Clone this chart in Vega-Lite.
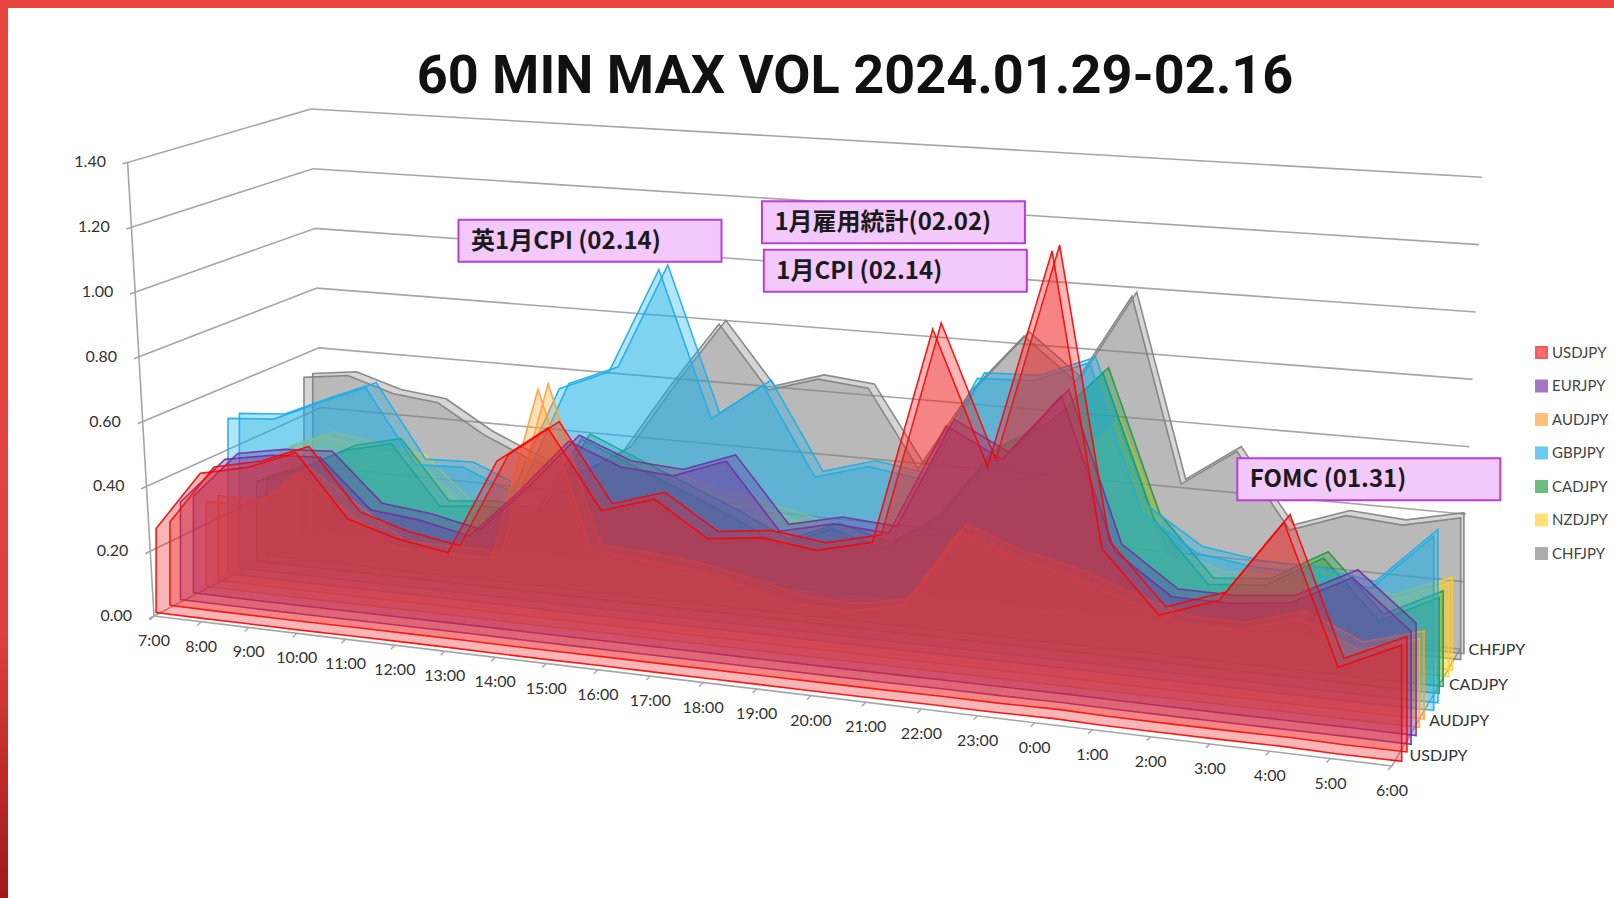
{"$schema":"https://vega.github.io/schema/vega-lite/v6.json","width":1614,"height":898,"padding":0,"autosize":{"type":"none"},"background":"white","title":{"text":"60 MIN MAX VOL 2024.01.29-02.16","font":"Roboto","fontWeight":"bold","fontSize":54,"color":"#111","anchor":"middle","dx":48,"dy":104,"offset":0},"config":{"view":{"stroke":null}},
"datasets":{"levels":[{"value":0,"label":"0.00"},{"value":0.2,"label":"0.20"},{"value":0.4,"label":"0.40"},{"value":0.6,"label":"0.60"},{"value":0.8,"label":"0.80"},{"value":1.0,"label":"1.00"},{"value":1.2,"label":"1.20"},{"value":1.4,"label":"1.40"}],
"notes":[{"label":"英1月CPI (02.14)","t":0.237,"level":1.024},{"label":"1月雇用統計(02.02)","t":0.498,"level":1.15},{"label":"1月CPI (02.14)","t":0.5,"level":0.998},{"label":"FOMC (01.31)","t":0.914,"level":0.477}],
"vol":[
{"hour":"7:00","idx":0,"pair":"CHFJPY","value":0.524},{"hour":"8:00","idx":1,"pair":"CHFJPY","value":0.543},{"hour":"9:00","idx":2,"pair":"CHFJPY","value":0.497},{"hour":"10:00","idx":3,"pair":"CHFJPY","value":0.48},{"hour":"11:00","idx":4,"pair":"CHFJPY","value":0.389},{"hour":"12:00","idx":5,"pair":"CHFJPY","value":0.323},{"hour":"13:00","idx":6,"pair":"CHFJPY","value":0.286},{"hour":"14:00","idx":7,"pair":"CHFJPY","value":0.38},{"hour":"15:00","idx":8,"pair":"CHFJPY","value":0.604},{"hour":"16:00","idx":9,"pair":"CHFJPY","value":0.812},{"hour":"17:00","idx":10,"pair":"CHFJPY","value":0.616},{"hour":"18:00","idx":11,"pair":"CHFJPY","value":0.664},{"hour":"19:00","idx":12,"pair":"CHFJPY","value":0.649},{"hour":"20:00","idx":13,"pair":"CHFJPY","value":0.412},{"hour":"21:00","idx":14,"pair":"CHFJPY","value":0.666},{"hour":"22:00","idx":15,"pair":"CHFJPY","value":0.85},{"hour":"23:00","idx":16,"pair":"CHFJPY","value":0.723},{"hour":"0:00","idx":17,"pair":"CHFJPY","value":0.997},{"hour":"1:00","idx":18,"pair":"CHFJPY","value":0.44},{"hour":"2:00","idx":19,"pair":"CHFJPY","value":0.554},{"hour":"3:00","idx":20,"pair":"CHFJPY","value":0.333},{"hour":"4:00","idx":21,"pair":"CHFJPY","value":0.392},{"hour":"5:00","idx":22,"pair":"CHFJPY","value":0.38},{"hour":"6:00","idx":23,"pair":"CHFJPY","value":0.417},
{"hour":"7:00","idx":0,"pair":"NZDJPY","value":0.32},{"hour":"8:00","idx":1,"pair":"NZDJPY","value":0.38},{"hour":"9:00","idx":2,"pair":"NZDJPY","value":0.355},{"hour":"10:00","idx":3,"pair":"NZDJPY","value":0.335},{"hour":"11:00","idx":4,"pair":"NZDJPY","value":0.2},{"hour":"12:00","idx":5,"pair":"NZDJPY","value":0.194},{"hour":"13:00","idx":6,"pair":"NZDJPY","value":0.189},{"hour":"14:00","idx":7,"pair":"NZDJPY","value":0.383},{"hour":"15:00","idx":8,"pair":"NZDJPY","value":0.378},{"hour":"16:00","idx":9,"pair":"NZDJPY","value":0.323},{"hour":"17:00","idx":10,"pair":"NZDJPY","value":0.297},{"hour":"18:00","idx":11,"pair":"NZDJPY","value":0.262},{"hour":"19:00","idx":12,"pair":"NZDJPY","value":0.227},{"hour":"20:00","idx":13,"pair":"NZDJPY","value":0.231},{"hour":"21:00","idx":14,"pair":"NZDJPY","value":0.226},{"hour":"22:00","idx":15,"pair":"NZDJPY","value":0.391},{"hour":"23:00","idx":16,"pair":"NZDJPY","value":0.485},{"hour":"0:00","idx":17,"pair":"NZDJPY","value":0.65},{"hour":"1:00","idx":18,"pair":"NZDJPY","value":0.27},{"hour":"2:00","idx":19,"pair":"NZDJPY","value":0.22},{"hour":"3:00","idx":20,"pair":"NZDJPY","value":0.224},{"hour":"4:00","idx":21,"pair":"NZDJPY","value":0.229},{"hour":"5:00","idx":22,"pair":"NZDJPY","value":0.203},{"hour":"6:00","idx":23,"pair":"NZDJPY","value":0.271},
{"hour":"7:00","idx":0,"pair":"CADJPY","value":0.257},{"hour":"8:00","idx":1,"pair":"CADJPY","value":0.312},{"hour":"9:00","idx":2,"pair":"CADJPY","value":0.388},{"hour":"10:00","idx":3,"pair":"CADJPY","value":0.424},{"hour":"11:00","idx":4,"pair":"CADJPY","value":0.239},{"hour":"12:00","idx":5,"pair":"CADJPY","value":0.255},{"hour":"13:00","idx":6,"pair":"CADJPY","value":0.241},{"hour":"14:00","idx":7,"pair":"CADJPY","value":0.496},{"hour":"15:00","idx":8,"pair":"CADJPY","value":0.432},{"hour":"16:00","idx":9,"pair":"CADJPY","value":0.368},{"hour":"17:00","idx":10,"pair":"CADJPY","value":0.303},{"hour":"18:00","idx":11,"pair":"CADJPY","value":0.229},{"hour":"19:00","idx":12,"pair":"CADJPY","value":0.295},{"hour":"20:00","idx":13,"pair":"CADJPY","value":0.251},{"hour":"21:00","idx":14,"pair":"CADJPY","value":0.356},{"hour":"22:00","idx":15,"pair":"CADJPY","value":0.572},{"hour":"23:00","idx":16,"pair":"CADJPY","value":0.668},{"hour":"0:00","idx":17,"pair":"CADJPY","value":0.84},{"hour":"1:00","idx":18,"pair":"CADJPY","value":0.419},{"hour":"2:00","idx":19,"pair":"CADJPY","value":0.245},{"hour":"3:00","idx":20,"pair":"CADJPY","value":0.26},{"hour":"4:00","idx":21,"pair":"CADJPY","value":0.356},{"hour":"5:00","idx":22,"pair":"CADJPY","value":0.191},{"hour":"6:00","idx":23,"pair":"CADJPY","value":0.276},
{"hour":"7:00","idx":0,"pair":"GBPJPY","value":0.498},{"hour":"8:00","idx":1,"pair":"GBPJPY","value":0.51},{"hour":"9:00","idx":2,"pair":"GBPJPY","value":0.576},{"hour":"10:00","idx":3,"pair":"GBPJPY","value":0.638},{"hour":"11:00","idx":4,"pair":"GBPJPY","value":0.41},{"hour":"12:00","idx":5,"pair":"GBPJPY","value":0.416},{"hour":"13:00","idx":6,"pair":"GBPJPY","value":0.353},{"hour":"14:00","idx":7,"pair":"GBPJPY","value":0.69},{"hour":"15:00","idx":8,"pair":"GBPJPY","value":0.756},{"hour":"16:00","idx":9,"pair":"GBPJPY","value":1.083},{"hour":"17:00","idx":10,"pair":"GBPJPY","value":0.64},{"hour":"18:00","idx":11,"pair":"GBPJPY","value":0.756},{"hour":"19:00","idx":12,"pair":"GBPJPY","value":0.493},{"hour":"20:00","idx":13,"pair":"GBPJPY","value":0.54},{"hour":"21:00","idx":14,"pair":"GBPJPY","value":0.517},{"hour":"22:00","idx":15,"pair":"GBPJPY","value":0.833},{"hour":"23:00","idx":16,"pair":"GBPJPY","value":0.84},{"hour":"0:00","idx":17,"pair":"GBPJPY","value":0.907},{"hour":"1:00","idx":18,"pair":"GBPJPY","value":0.483},{"hour":"2:00","idx":19,"pair":"GBPJPY","value":0.38},{"hour":"3:00","idx":20,"pair":"GBPJPY","value":0.357},{"hour":"4:00","idx":21,"pair":"GBPJPY","value":0.354},{"hour":"5:00","idx":22,"pair":"GBPJPY","value":0.33},{"hour":"6:00","idx":23,"pair":"GBPJPY","value":0.496},
{"hour":"7:00","idx":0,"pair":"AUDJPY","value":0.27},{"hour":"8:00","idx":1,"pair":"AUDJPY","value":0.27},{"hour":"9:00","idx":2,"pair":"AUDJPY","value":0.39},{"hour":"10:00","idx":3,"pair":"AUDJPY","value":0.29},{"hour":"11:00","idx":4,"pair":"AUDJPY","value":0.19},{"hour":"12:00","idx":5,"pair":"AUDJPY","value":0.19},{"hour":"13:00","idx":6,"pair":"AUDJPY","value":0.19},{"hour":"14:00","idx":7,"pair":"AUDJPY","value":0.723},{"hour":"15:00","idx":8,"pair":"AUDJPY","value":0.245},{"hour":"16:00","idx":9,"pair":"AUDJPY","value":0.235},{"hour":"17:00","idx":10,"pair":"AUDJPY","value":0.22},{"hour":"18:00","idx":11,"pair":"AUDJPY","value":0.19},{"hour":"19:00","idx":12,"pair":"AUDJPY","value":0.155},{"hour":"20:00","idx":13,"pair":"AUDJPY","value":0.15},{"hour":"21:00","idx":14,"pair":"AUDJPY","value":0.185},{"hour":"22:00","idx":15,"pair":"AUDJPY","value":0.42},{"hour":"23:00","idx":16,"pair":"AUDJPY","value":0.36},{"hour":"0:00","idx":17,"pair":"AUDJPY","value":0.325},{"hour":"1:00","idx":18,"pair":"AUDJPY","value":0.27},{"hour":"2:00","idx":19,"pair":"AUDJPY","value":0.22},{"hour":"3:00","idx":20,"pair":"AUDJPY","value":0.22},{"hour":"4:00","idx":21,"pair":"AUDJPY","value":0.27},{"hour":"5:00","idx":22,"pair":"AUDJPY","value":0.2},{"hour":"6:00","idx":23,"pair":"AUDJPY","value":0.25},
{"hour":"7:00","idx":0,"pair":"EURJPY","value":0.305},{"hour":"8:00","idx":1,"pair":"EURJPY","value":0.454},{"hour":"9:00","idx":2,"pair":"EURJPY","value":0.482},{"hour":"10:00","idx":3,"pair":"EURJPY","value":0.491},{"hour":"11:00","idx":4,"pair":"EURJPY","value":0.345},{"hour":"12:00","idx":5,"pair":"EURJPY","value":0.329},{"hour":"13:00","idx":6,"pair":"EURJPY","value":0.297},{"hour":"14:00","idx":7,"pair":"EURJPY","value":0.446},{"hour":"15:00","idx":8,"pair":"EURJPY","value":0.615},{"hour":"16:00","idx":9,"pair":"EURJPY","value":0.553},{"hour":"17:00","idx":10,"pair":"EURJPY","value":0.542},{"hour":"18:00","idx":11,"pair":"EURJPY","value":0.601},{"hour":"19:00","idx":12,"pair":"EURJPY","value":0.41},{"hour":"20:00","idx":13,"pair":"EURJPY","value":0.448},{"hour":"21:00","idx":14,"pair":"EURJPY","value":0.437},{"hour":"22:00","idx":15,"pair":"EURJPY","value":0.766},{"hour":"23:00","idx":16,"pair":"EURJPY","value":0.684},{"hour":"0:00","idx":17,"pair":"EURJPY","value":0.883},{"hour":"1:00","idx":18,"pair":"EURJPY","value":0.452},{"hour":"2:00","idx":19,"pair":"EURJPY","value":0.34},{"hour":"3:00","idx":20,"pair":"EURJPY","value":0.339},{"hour":"4:00","idx":21,"pair":"EURJPY","value":0.358},{"hour":"5:00","idx":22,"pair":"EURJPY","value":0.447},{"hour":"6:00","idx":23,"pair":"EURJPY","value":0.315},
{"hour":"7:00","idx":0,"pair":"USDJPY","value":0.26},{"hour":"8:00","idx":1,"pair":"USDJPY","value":0.446},{"hour":"9:00","idx":2,"pair":"USDJPY","value":0.48},{"hour":"10:00","idx":3,"pair":"USDJPY","value":0.54},{"hour":"11:00","idx":4,"pair":"USDJPY","value":0.355},{"hour":"12:00","idx":5,"pair":"USDJPY","value":0.31},{"hour":"13:00","idx":6,"pair":"USDJPY","value":0.285},{"hour":"14:00","idx":7,"pair":"USDJPY","value":0.575},{"hour":"15:00","idx":8,"pair":"USDJPY","value":0.69},{"hour":"16:00","idx":9,"pair":"USDJPY","value":0.46},{"hour":"17:00","idx":10,"pair":"USDJPY","value":0.51},{"hour":"18:00","idx":11,"pair":"USDJPY","value":0.41},{"hour":"19:00","idx":12,"pair":"USDJPY","value":0.43},{"hour":"20:00","idx":13,"pair":"USDJPY","value":0.41},{"hour":"21:00","idx":14,"pair":"USDJPY","value":0.45},{"hour":"22:00","idx":15,"pair":"USDJPY","value":1.08},{"hour":"23:00","idx":16,"pair":"USDJPY","value":0.7},{"hour":"0:00","idx":17,"pair":"USDJPY","value":1.33},{"hour":"1:00","idx":18,"pair":"USDJPY","value":0.5},{"hour":"2:00","idx":19,"pair":"USDJPY","value":0.33},{"hour":"3:00","idx":20,"pair":"USDJPY","value":0.39},{"hour":"4:00","idx":21,"pair":"USDJPY","value":0.625},{"hour":"5:00","idx":22,"pair":"USDJPY","value":0.24},{"hour":"6:00","idx":23,"pair":"USDJPY","value":0.32}
]},
"layer":[
{"data":{"values":[{"edge":"top"}]},"mark":{"type":"rect","color":"#e8463f"},"encoding":{"x":{"datum":0,"type":"quantitative","scale":{"domain":[0,1614],"nice":false,"zero":false},"axis":null},"x2":{"datum":1614},"y":{"datum":0,"type":"quantitative","scale":{"domain":[898,0],"nice":false,"zero":false},"axis":null},"y2":{"datum":8}}},
{"data":{"values":[{"edge":"left"}]},"mark":{"type":"rect","color":{"gradient":"linear","x1":0,"y1":0,"x2":0,"y2":1,"stops":[{"offset":0,"color":"#e8463f"},{"offset":0.7,"color":"#e04040"},{"offset":1,"color":"#a01818"}]}},"encoding":{"x":{"datum":0,"type":"quantitative","axis":null},"x2":{"datum":8},"y":{"datum":0,"type":"quantitative","axis":null},"y2":{"datum":898}}},
{"data":{"name":"levels"},"transform":[{"calculate":"0","as":"t"},{"calculate":"-0.03","as":"s"},
{"calculate":"(1-datum.s)*((1-datum.t)*(154-18.6*datum.value)+datum.t*(1392+22*datum.value))+datum.s*((1-datum.t)*(325-10*datum.value)+datum.t*(1460+15.7*datum.value))","as":"x1"},{"calculate":"(1-datum.s)*((1-datum.t)*(616-324*datum.value)+datum.t*(766-364*datum.value))+datum.s*((1-datum.t)*(527-298.6*datum.value)+datum.t*(649-337*datum.value))","as":"y1"},
{"calculate":"1","as":"s"},
{"calculate":"(1-datum.s)*((1-datum.t)*(154-18.6*datum.value)+datum.t*(1392+22*datum.value))+datum.s*((1-datum.t)*(325-10*datum.value)+datum.t*(1460+15.7*datum.value))","as":"x2"},{"calculate":"(1-datum.s)*((1-datum.t)*(616-324*datum.value)+datum.t*(766-364*datum.value))+datum.s*((1-datum.t)*(527-298.6*datum.value)+datum.t*(649-337*datum.value))","as":"y2"}],"mark":{"type":"rule","color":"#a6a6a6","strokeWidth":1.6},"encoding":{"x":{"field":"x1","type":"quantitative","axis":null},"x2":{"field":"x2"},"y":{"field":"y1","type":"quantitative","axis":null},"y2":{"field":"y2"}}},
{"data":{"name":"levels"},"transform":[{"calculate":"1","as":"s"},{"calculate":"0","as":"t"},
{"calculate":"(1-datum.s)*((1-datum.t)*(154-18.6*datum.value)+datum.t*(1392+22*datum.value))+datum.s*((1-datum.t)*(325-10*datum.value)+datum.t*(1460+15.7*datum.value))","as":"x1"},{"calculate":"(1-datum.s)*((1-datum.t)*(616-324*datum.value)+datum.t*(766-364*datum.value))+datum.s*((1-datum.t)*(527-298.6*datum.value)+datum.t*(649-337*datum.value))","as":"y1"},
{"calculate":"1","as":"t"},
{"calculate":"(1-datum.s)*((1-datum.t)*(154-18.6*datum.value)+datum.t*(1392+22*datum.value))+datum.s*((1-datum.t)*(325-10*datum.value)+datum.t*(1460+15.7*datum.value))","as":"x2"},{"calculate":"(1-datum.s)*((1-datum.t)*(616-324*datum.value)+datum.t*(766-364*datum.value))+datum.s*((1-datum.t)*(527-298.6*datum.value)+datum.t*(649-337*datum.value))","as":"y2"}],"mark":{"type":"rule","color":"#a6a6a6","strokeWidth":1.6},"encoding":{"x":{"field":"x1","type":"quantitative","axis":null},"x2":{"field":"x2"},"y":{"field":"y1","type":"quantitative","axis":null},"y2":{"field":"y2"}}},
{"data":{"name":"levels"},"transform":[{"filter":"datum.value===0"},{"calculate":"154","as":"x1"},{"calculate":"616","as":"y1"},{"calculate":"127.6","as":"x2"},{"calculate":"162","as":"y2"}],"mark":{"type":"rule","color":"#a6a6a6","strokeWidth":1.6},"encoding":{"x":{"field":"x1","type":"quantitative","axis":null},"x2":{"field":"x2"},"y":{"field":"y1","type":"quantitative","axis":null},"y2":{"field":"y2"}}},
{"data":{"name":"levels"},"transform":[{"filter":"datum.value===0"},{"calculate":"154","as":"x1"},{"calculate":"616","as":"y1"},{"calculate":"1392","as":"x2"},{"calculate":"766","as":"y2"}],"mark":{"type":"rule","color":"#a6a6a6","strokeWidth":1.6},"encoding":{"x":{"field":"x1","type":"quantitative","axis":null},"x2":{"field":"x2"},"y":{"field":"y1","type":"quantitative","axis":null},"y2":{"field":"y2"}}},
{"data":{"name":"levels"},"transform":[{"filter":"datum.value===0"},{"calculate":"1392","as":"x1"},{"calculate":"766","as":"y1"},{"calculate":"1460","as":"x2"},{"calculate":"649","as":"y2"}],"mark":{"type":"rule","color":"#a6a6a6","strokeWidth":1.6},"encoding":{"x":{"field":"x1","type":"quantitative","axis":null},"x2":{"field":"x2"},"y":{"field":"y1","type":"quantitative","axis":null},"y2":{"field":"y2"}}},
{"data":{"name":"vol"},"transform":[{"filter":"datum.pair==='USDJPY'"},{"calculate":"datum.idx/(datum.idx+1.15*(23-datum.idx))","as":"t"},{"calculate":"154+1238*datum.t","as":"x1"},{"calculate":"616+150*datum.t","as":"y1"},{"calculate":"datum.x1-4","as":"x2"},{"calculate":"datum.y1+4","as":"y2"}],"mark":{"type":"rule","color":"#a6a6a6","strokeWidth":1.4},"encoding":{"x":{"field":"x1","type":"quantitative","axis":null},"x2":{"field":"x2"},"y":{"field":"y1","type":"quantitative","axis":null},"y2":{"field":"y2"}}},
{"data":{"name":"vol"},"transform":[{"filter":"datum.pair==='USDJPY'"},{"calculate":"datum.idx/(datum.idx+1.15*(23-datum.idx))","as":"t"},{"calculate":"154+1238*datum.t","as":"x1"},{"calculate":"616+150*datum.t+25","as":"y1"}],"mark":{"type":"text","font":"Lato","fontSize":16,"color":"#333"},"encoding":{"x":{"field":"x1","type":"quantitative","axis":null},"y":{"field":"y1","type":"quantitative","axis":null},"text":{"field":"hour"}}},
{"data":{"name":"levels"},"transform":[{"calculate":"154-18.6*datum.value","as":"x1"},{"calculate":"616-324*datum.value","as":"y1"}],"mark":{"type":"text","font":"Lato","fontSize":16,"color":"#333","align":"right","dx":-22},"encoding":{"x":{"field":"x1","type":"quantitative","axis":null},"y":{"field":"y1","type":"quantitative","axis":null},"text":{"field":"label"}}},
{"data":{"name":"vol"},"transform":[{"filter":"datum.idx===23&&indexof(['USDJPY','AUDJPY','CADJPY','CHFJPY'],datum.pair)>=0"},{"calculate":"0.08+0.145*indexof(['USDJPY','EURJPY','AUDJPY','GBPJPY','CADJPY','NZDJPY','CHFJPY'],datum.pair)","as":"s"},{"calculate":"1392+68*datum.s","as":"x1"},{"calculate":"766-122*datum.s","as":"y1"}],"mark":{"type":"text","font":"Lato","fontSize":16,"color":"#333","align":"left","dx":12,"dy":0},"encoding":{"x":{"field":"x1","type":"quantitative","axis":null},"y":{"field":"y1","type":"quantitative","axis":null},"text":{"field":"pair"}}},
{"data":{"name":"vol"},"transform":[{"calculate":"indexof(['USDJPY','EURJPY','AUDJPY','GBPJPY','CADJPY','NZDJPY','CHFJPY'],datum.pair)","as":"r"},{"calculate":"datum.idx/(datum.idx+1.15*(23-datum.idx))","as":"t"},{"calculate":"[0.08-0.005*datum.r,0]","as":"faces"},{"flatten":["faces"],"as":["face"]},{"calculate":"0.04+0.145*datum.r+datum.face","as":"s"},{"calculate":"datum.pair+'-'+datum.face","as":"key"},
{"calculate":"(1-datum.s)*((1-datum.t)*(154-18.6*datum.value)+datum.t*(1392+22*datum.value))+datum.s*((1-datum.t)*(325-10*datum.value)+datum.t*(1460+15.7*datum.value))","as":"px"},{"calculate":"(1-datum.s)*((1-datum.t)*(616-324*datum.value)+datum.t*(766-364*datum.value))+datum.s*((1-datum.t)*(527-298.6*datum.value)+datum.t*(649-337*datum.value))","as":"py"},{"calculate":"(1-datum.s)*((1-datum.t)*616+datum.t*766)+datum.s*((1-datum.t)*527+datum.t*649)","as":"py0"}],
"mark":{"type":"area","fillOpacity":0.33,"strokeWidth":1.6,"strokeOpacity":0.9,"interpolate":"linear"},
"encoding":{"x":{"field":"px","type":"quantitative","axis":null},"y":{"field":"py","type":"quantitative","axis":null},"y2":{"field":"py0"},"detail":{"field":"key"},
"fill":{"field":"pair","type":"nominal","scale":{"domain":["USDJPY","EURJPY","AUDJPY","GBPJPY","CADJPY","NZDJPY","CHFJPY"],"range":["#ee2222","#7030a0","#ffa030","#19aee8","#1e9a3c","#ffd02e","#808080"]},"legend":{"title":null,"orient":"none","legendX":1534,"legendY":345,"symbolType":"square","symbolSize":120,"symbolStrokeWidth":2,"symbolOpacity":0.65,"labelFont":"Lato","labelFontSize":15,"labelColor":"#444","rowPadding":14.5,"labelOffset":3}},
"stroke":{"field":"pair","type":"nominal","scale":{"domain":["USDJPY","EURJPY","AUDJPY","GBPJPY","CADJPY","NZDJPY","CHFJPY"],"range":["#ff0000","#7030a0","#ffa030","#19aee8","#1e9a3c","#ffd02e","#808080"]},"legend":null}}},
{"data":{"name":"notes"},"transform":[{"calculate":"(1-datum.t)*(325-10*datum.level)+datum.t*(1460+15.7*datum.level)","as":"px"},{"calculate":"(1-datum.t)*(527-298.6*datum.level)+datum.t*(649-337*datum.level)","as":"py"}],"mark":{"type":"rect","width":263,"height":42,"fill":"#f3c8fb","stroke":"#b83ee0","strokeWidth":2},"encoding":{"x":{"field":"px","type":"quantitative","axis":null},"y":{"field":"py","type":"quantitative","axis":null}}},
{"data":{"name":"notes"},"transform":[{"calculate":"(1-datum.t)*(325-10*datum.level)+datum.t*(1460+15.7*datum.level)","as":"px"},{"calculate":"(1-datum.t)*(527-298.6*datum.level)+datum.t*(649-337*datum.level)","as":"py"}],"mark":{"type":"text","font":"Noto Sans CJK JP","fontWeight":"bold","fontSize":24,"color":"#1a1a1a","align":"left","dx":-119,"dy":1},"encoding":{"x":{"field":"px","type":"quantitative","axis":null},"y":{"field":"py","type":"quantitative","axis":null},"text":{"field":"label"}}}
]}
